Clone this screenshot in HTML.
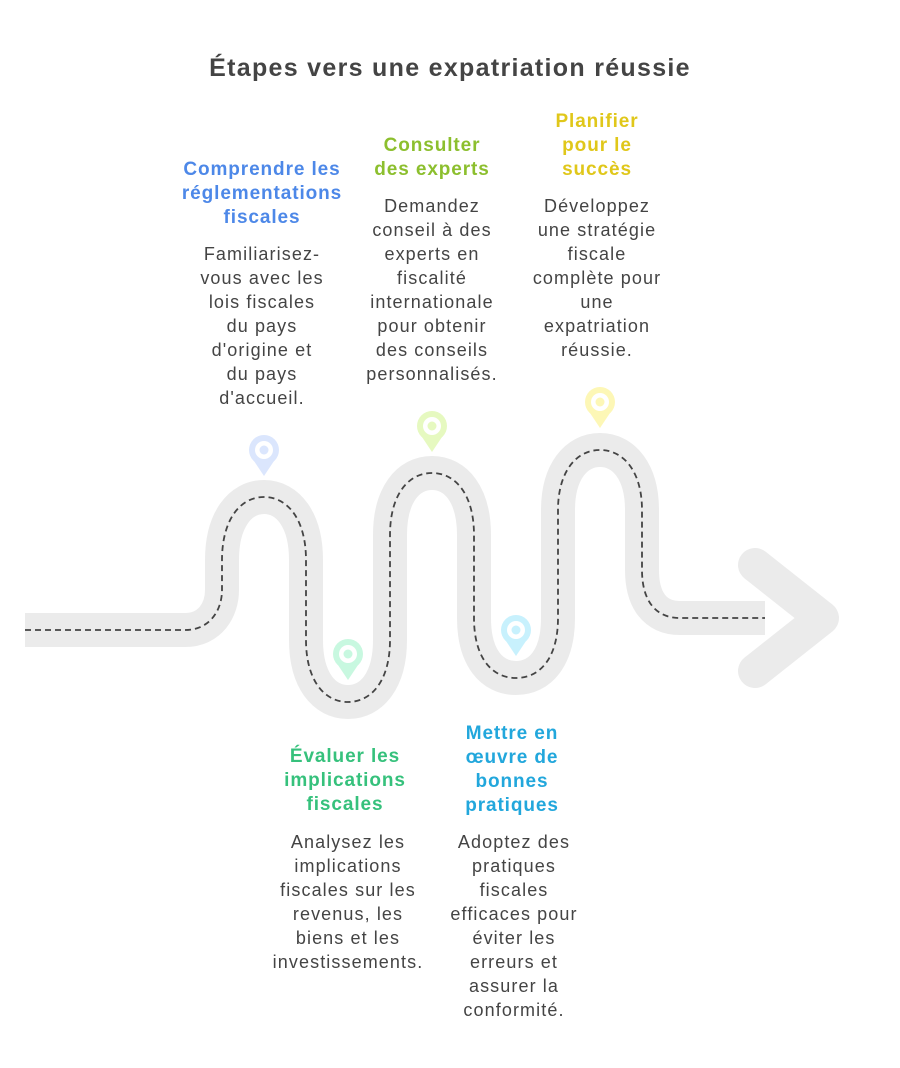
<!DOCTYPE html>
<html><head><meta charset="utf-8"><style>
body{margin:0;width:900px;height:1068px;background:#fff;position:relative;overflow:hidden;font-family:"Liberation Sans","DejaVu Sans",sans-serif;}
.t{position:absolute;text-align:center;line-height:24px;white-space:nowrap;transform:translateX(-50%);}
.h{font-weight:bold;font-size:19px;letter-spacing:0.9px;}
.b{font-size:18px;color:#444;letter-spacing:1.1px;}
</style></head><body>
<svg width="900" height="1068" style="position:absolute;left:0;top:0">
<path d="M25 630 H185 C210 630 222 610 222 590 V560 C222 520 240 497 264 497 C288 497 306 520 306 560 V640 C306 680 324 702 348 702 C372 702 390 680 390 640 V535 C390 495 408 473 432 473 C456 473 474 495 474 535 V618 C474 658 492 678 516 678 C540 678 558 658 558 618 V510 C558 472 576 450 600 450 C624 450 642 472 642 510 V570 C642 600 655 618 680 618 H765" fill="none" stroke="#ebebeb" stroke-width="34"/>
<polyline points="755,565 822,618 755,671" fill="none" stroke="#ebebeb" stroke-width="34" stroke-linecap="round" stroke-linejoin="round"/>
<path d="M25 630 H185 C210 630 222 610 222 590 V560 C222 520 240 497 264 497 C288 497 306 520 306 560 V640 C306 680 324 702 348 702 C372 702 390 680 390 640 V535 C390 495 408 473 432 473 C456 473 474 495 474 535 V618 C474 658 492 678 516 678 C540 678 558 658 558 618 V510 C558 472 576 450 600 450 C624 450 642 472 642 510 V570 C642 600 655 618 680 618 H765" fill="none" stroke="#444" stroke-width="1.8" stroke-dasharray="6 4"/>
<g fill="#dbe6fd"><circle cx="264" cy="450" r="15"/><path d="M254 461 L264 476 L274 461Z"/></g><circle cx="264" cy="450" r="9" fill="#fff"/><circle cx="264" cy="450" r="4.5" fill="#dbe6fd"/>
<g fill="#e6f9c0"><circle cx="432" cy="426" r="15"/><path d="M422 437 L432 452 L442 437Z"/></g><circle cx="432" cy="426" r="9" fill="#fff"/><circle cx="432" cy="426" r="4.5" fill="#e6f9c0"/>
<g fill="#fdf7b6"><circle cx="600" cy="402" r="15"/><path d="M590 413 L600 428 L610 413Z"/></g><circle cx="600" cy="402" r="9" fill="#fff"/><circle cx="600" cy="402" r="4.5" fill="#fdf7b6"/>
<g fill="#c8f8e0"><circle cx="348" cy="654" r="15"/><path d="M338 665 L348 680 L358 665Z"/></g><circle cx="348" cy="654" r="9" fill="#fff"/><circle cx="348" cy="654" r="4.5" fill="#c8f8e0"/>
<g fill="#c8f1fd"><circle cx="516" cy="630" r="15"/><path d="M506 641 L516 656 L526 641Z"/></g><circle cx="516" cy="630" r="9" fill="#fff"/><circle cx="516" cy="630" r="4.5" fill="#c8f1fd"/>
</svg>
<div class="t" style="left:450px;top:53px;font-size:25px;letter-spacing:1.3px;font-weight:bold;color:#444;line-height:30px">Étapes vers une expatriation réussie</div>
<div class="t h" style="left:262px;top:158px;color:#4d88e8">Comprendre les<br>réglementations<br>fiscales</div>
<div class="t b" style="left:262px;top:242px">Familiarisez-<br>vous avec les<br>lois fiscales<br>du pays<br>d'origine et<br>du pays<br>d'accueil.</div>
<div class="t h" style="left:432px;top:134px;color:#8cbf2e">Consulter<br>des experts</div>
<div class="t b" style="left:432px;top:194px">Demandez<br>conseil à des<br>experts en<br>fiscalité<br>internationale<br>pour obtenir<br>des conseils<br>personnalisés.</div>
<div class="t h" style="left:597px;top:110px;color:#e0c71a">Planifier<br>pour le<br>succès</div>
<div class="t b" style="left:597px;top:194px">Développez<br>une stratégie<br>fiscale<br>complète pour<br>une<br>expatriation<br>réussie.</div>
<div class="t h" style="left:345px;top:745px;color:#36c17c">Évaluer les<br>implications<br>fiscales</div>
<div class="t b" style="left:348px;top:830px">Analysez les<br>implications<br>fiscales sur les<br>revenus, les<br>biens et les<br>investissements.</div>
<div class="t h" style="left:512px;top:722px;color:#22a7dc">Mettre en<br>œuvre de<br>bonnes<br>pratiques</div>
<div class="t b" style="left:514px;top:830px">Adoptez des<br>pratiques<br>fiscales<br>efficaces pour<br>éviter les<br>erreurs et<br>assurer la<br>conformité.</div>
</body></html>
